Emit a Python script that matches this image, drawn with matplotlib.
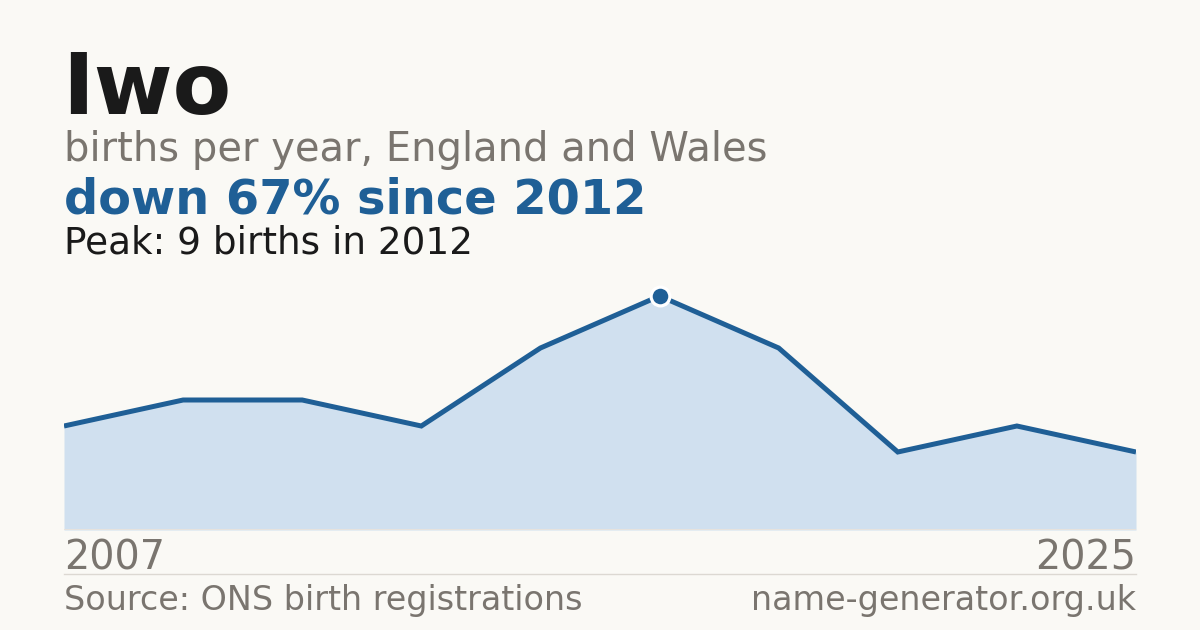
import matplotlib
matplotlib.use("Agg")
import matplotlib.pyplot as plt

name = "Iwo"
subtitle = "births per year, England and Wales"
headline = "down 67% since 2012"
peak_note = "Peak: 9 births in 2012"
first_year = "2007"
last_year = "2025"
source = "Source: ONS birth registrations"
site = "name-generator.org.uk"
births = [4, 5, 5, 4, 7, 9, 7, 3, 4, 3]
peak_idx = 5

W, H = 1200, 630
bg = "#faf9f5"
blue = "#1f5f96"
fill = "#d0e0ef"
grey = "#7a756f"


def fx(px):
    return px / W


def fy(py):
    return 1 - py / H


fig = plt.figure(figsize=(12, 6.3), dpi=100, facecolor=bg)

fig.text(fx(62), fy(114), name, fontsize=61.5, fontweight="bold", color="#1a1a1a", va="baseline")
fig.text(fx(64), fy(161), subtitle, fontsize=28.8, color=grey, va="baseline")
fig.text(fx(64), fy(214), headline, fontsize=34.5, fontweight="bold", color=blue, va="baseline")
fig.text(fx(64), fy(254), peak_note, fontsize=26.9, color="#1a1a1a", va="baseline")

ax = fig.add_axes([fx(64), fy(530), fx(1136) - fx(64), fy(296) - fy(530)])
ax.set_facecolor(bg)
xs = list(range(len(births)))
ax.fill_between(xs, births, 0, color=fill, lw=0)
ax.plot(xs, births, color=blue, lw=3.6, solid_joinstyle="miter", solid_capstyle="butt")
ax.plot(xs[peak_idx], births[peak_idx], "o", ms=13.5, mfc=blue, mec="white", mew=2.3,
        clip_on=False, zorder=5)
ax.set_xlim(0, len(births) - 1)
ax.set_ylim(0, max(births))
ax.axis("off")
ax.axhline(0, color="#ebe3da", lw=1.2)

fig.text(fx(64), fy(569), first_year, fontsize=28.5, color=grey, va="baseline")
fig.text(fx(1136), fy(569), last_year, fontsize=28.5, color=grey, va="baseline", ha="right")
fig.add_artist(plt.Line2D([fx(64), fx(1136)], [fy(574), fy(574)], color="#dcd8d2", lw=1))
fig.text(fx(64), fy(610), source, fontsize=24, color=grey, va="baseline")
fig.text(fx(1136), fy(610), site, fontsize=24, color=grey, va="baseline", ha="right")

fig.savefig("out.png", dpi=100, facecolor=bg)
